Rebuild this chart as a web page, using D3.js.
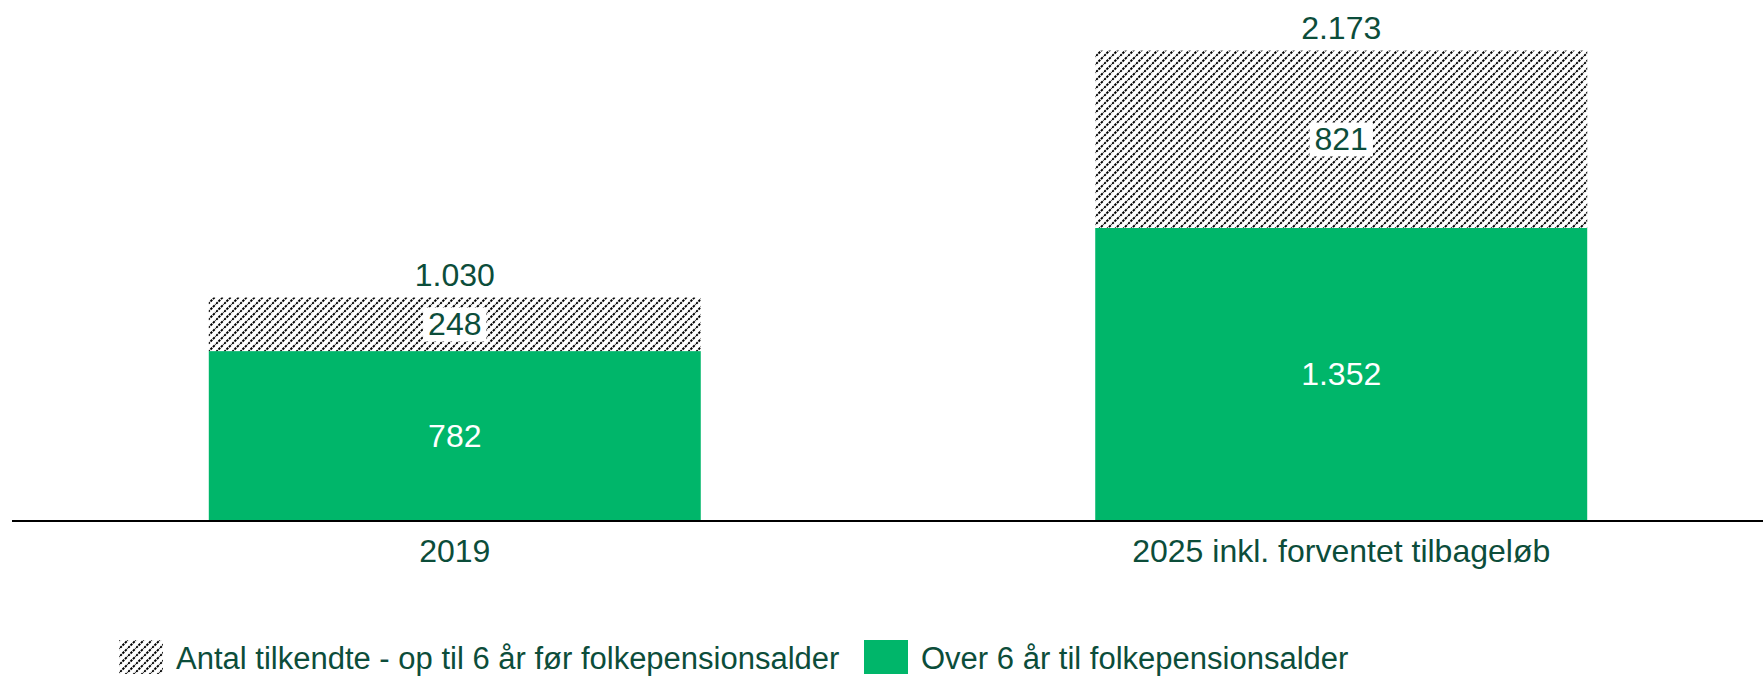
<!DOCTYPE html>
<html>
<head>
<meta charset="utf-8">
<script src="https://cdn.jsdelivr.net/npm/d3@7"></script>
<style>
  body { margin: 0; background: #fff; }
  text { font-family: "Liberation Sans", Arial, sans-serif; }
</style>
</head>
<body>
<div id="chart"></div>
<script>
// data
const CATEGORIES = ["2019", "2025 inkl. forventet tilbageløb"];
const OVER6 = [782, 1352];      // Over 6 år til folkepensionsalder
const UPTO6 = [248, 821];       // Antal tilkendte - op til 6 år før folkepensionsalder
const LEGEND = ["Antal tilkendte - op til 6 år før folkepensionsalder", "Over 6 år til folkepensionsalder"];

const GREEN = "#00b66a";
const TEXT = "#0c4d3a";
const W = 1763, H = 676;
const BASE = 520;

var fmt = d3.format(",");
function dk(v) { return fmt(v).replace(/,/g, "."); }

var svg = d3.select("#chart").append("svg")
    .attr("width", W).attr("height", H);

// hatch pattern
var defs = svg.append("defs");
var pat = defs.append("pattern")
    .attr("id", "hatch")
    .attr("patternUnits", "userSpaceOnUse")
    .attr("width", 8).attr("height", 8);
pat.append("rect").attr("width", 8).attr("height", 8).attr("fill", "#fff");
pat.append("path")
    .attr("d", "M-2,2 L2,-2 M0,8 L8,0 M6,10 L10,6")
    .attr("stroke", "#000").attr("stroke-width", 1.9)
    .attr("stroke-dasharray", "2.5,1");

var x = d3.scaleBand()
    .domain(CATEGORIES)
    .range([12, 1784])
    .paddingInner(0.445)
    .paddingOuter(0.222);

var y = d3.scaleLinear()
    .domain([0, 2173])
    .range([BASE, 50.6]);

var rows = CATEGORIES.map(function(c, i) {
  return { cat: c, over: OVER6[i], upto: UPTO6[i], total: OVER6[i] + UPTO6[i] };
});

// green segments
svg.selectAll(".over").data(rows).enter().append("rect")
    .attr("class", "over")
    .attr("x", d => x(d.cat))
    .attr("width", x.bandwidth())
    .attr("y", d => y(d.over))
    .attr("height", d => y(0) - y(d.over))
    .attr("fill", GREEN);

// hatched segments
svg.selectAll(".upto").data(rows).enter().append("rect")
    .attr("class", "upto")
    .attr("x", d => x(d.cat))
    .attr("width", x.bandwidth())
    .attr("y", d => y(d.total))
    .attr("height", d => y(d.over) - y(d.total))
    .attr("fill", "url(#hatch)");

// baseline
svg.append("line")
    .attr("x1", 12).attr("x2", W)
    .attr("y1", BASE + 1).attr("y2", BASE + 1)
    .attr("stroke", "#000").attr("stroke-width", 2);

var FS = 32;

// labels in green
svg.selectAll(".lblOver").data(rows).enter().append("text")
    .attr("x", d => x(d.cat) + x.bandwidth() / 2)
    .attr("y", d => (y(0) + y(d.over)) / 2)
    .attr("dy", "0.35em")
    .attr("text-anchor", "middle")
    .attr("font-size", FS)
    .attr("fill", "#fff")
    .text(d => dk(d.over));

// labels in hatch with white box
var g2 = svg.selectAll(".lblUp").data(rows).enter().append("g");
var t2 = g2.append("text")
    .attr("x", d => x(d.cat) + x.bandwidth() / 2)
    .attr("y", d => (y(d.over) + y(d.total)) / 2)
    .attr("dy", "0.35em")
    .attr("text-anchor", "middle")
    .attr("font-size", FS)
    .attr("fill", TEXT)
    .text(d => dk(d.upto));
t2.each(function() {
  var b = this.getBBox();
  d3.select(this.parentNode).insert("rect", "text")
      .attr("x", b.x - 5).attr("y", b.y + 1)
      .attr("width", b.width + 10).attr("height", b.height - 2)
      .attr("fill", "#fff");
});

// totals
svg.selectAll(".lblTot").data(rows).enter().append("text")
    .attr("x", d => x(d.cat) + x.bandwidth() / 2)
    .attr("y", d => y(d.total) - 12)
    .attr("text-anchor", "middle")
    .attr("font-size", FS)
    .attr("fill", TEXT)
    .text(d => dk(d.total));

// category axis labels
svg.selectAll(".cat").data(CATEGORIES).enter().append("text")
    .attr("x", d => x(d) + x.bandwidth() / 2)
    .attr("y", 562)
    .attr("text-anchor", "middle")
    .attr("font-size", FS)
    .attr("fill", TEXT)
    .text(d => d);

// legend
var leg = [
  { x: 119, fill: "url(#hatch)", label: LEGEND[0] },
  { x: 864, fill: GREEN, label: LEGEND[1] }
];
var lg = svg.selectAll(".leg").data(leg).enter().append("g");
lg.append("rect")
    .attr("x", d => d.x).attr("y", 640)
    .attr("width", 44).attr("height", 34)
    .attr("fill", d => d.fill);
lg.append("text")
    .attr("x", d => d.x + 57).attr("y", 669)
    .attr("font-size", 31)
    .attr("fill", TEXT)
    .text(d => d.label);
</script>
</body>
</html>
